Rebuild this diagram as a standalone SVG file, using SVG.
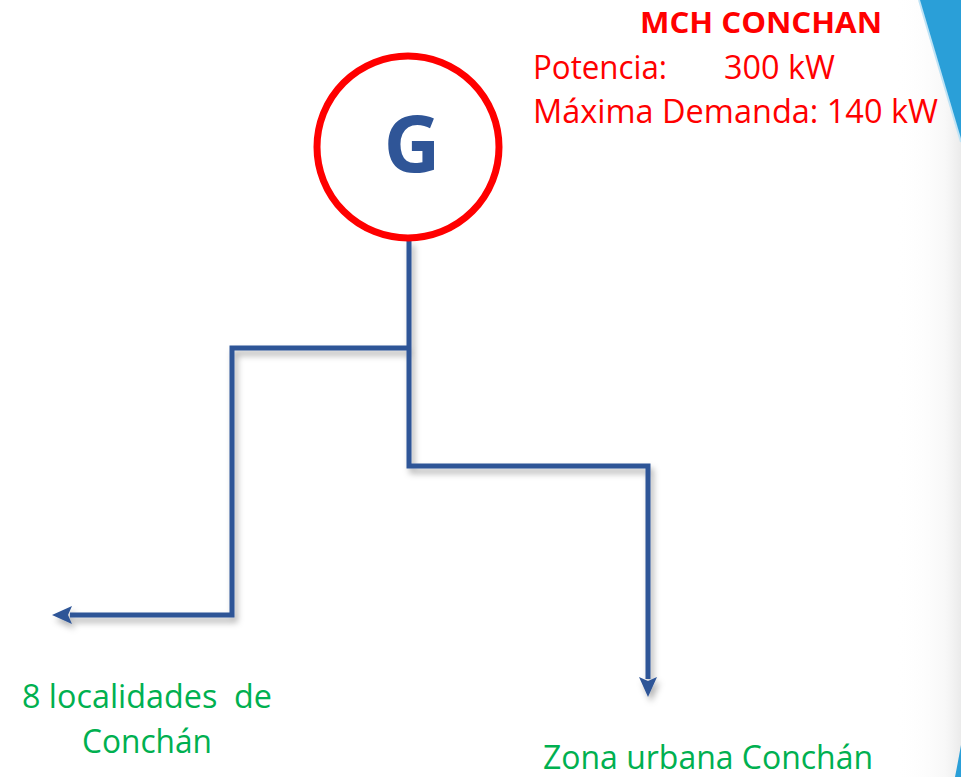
<svg xmlns="http://www.w3.org/2000/svg" width="961" height="777" viewBox="0 0 961 777">
<defs>
<style>
.red{font-family:"Open Sans","Liberation Sans",sans-serif;fill:#FF0000;font-size:32px}
.green{font-family:"Open Sans","Liberation Sans",sans-serif;fill:#00B050;font-size:32px}
.wire{fill:none;stroke:#2F5597;stroke-width:5;stroke-linejoin:miter}
</style>
<linearGradient id="shade" x1="0" y1="0" x2="1" y2="0">
<stop offset="0" stop-color="#ffffff" stop-opacity="0"/>
<stop offset="0.75" stop-color="#eeeeee" stop-opacity="0.4"/>
<stop offset="1" stop-color="#dddddd" stop-opacity="0.6"/>
</linearGradient>
<filter id="sh" x="-10%" y="-10%" width="130%" height="130%">
<feDropShadow dx="3" dy="5" stdDeviation="3" flood-color="#000" flood-opacity="0.3"/>
</filter>
<marker id="arr" viewBox="0 0 20 20" refX="2" refY="10" markerWidth="20" markerHeight="20" orient="auto" markerUnits="userSpaceOnUse">
<path d="M0,1 L20,10 L0,19 L4,10 Z" fill="#2F5597"/>
</marker>
</defs>
<rect width="961" height="777" fill="#ffffff"/>
<g id="decoration">
<rect x="895" y="0" width="66" height="777" fill="url(#shade)"/>
<path d="M919,0 Q938,65 961,142 V0 Z" fill="#2A9FD8"/>
<path d="M919,0 Q938,65 961,142" fill="none" stroke="#bfe3f5" stroke-width="2"/>
<path d="M961,745 Q958,762 955,777 H961 Z" fill="#2A9FD8"/>
</g>
<g id="connectors" filter="url(#sh)">
<path class="wire" d="M409,240 V466 H648 V679" marker-end="url(#arr)"/>
<path class="wire" d="M409,348 H232 V615 H70" marker-end="url(#arr)"/>
</g>
<g id="generator">
<circle cx="408" cy="147" r="91" fill="#ffffff" stroke="#FF0000" stroke-width="7"/>
<text x="412" y="172" text-anchor="middle" font-family="'Open Sans','Liberation Sans',sans-serif" font-weight="bold" font-size="78" fill="#2F5597">G</text>
</g>
<g id="info">
<text x="640" y="33" font-family="'Open Sans','Liberation Sans',sans-serif" font-weight="bold" font-size="29" fill="#FF0000" textLength="242" lengthAdjust="spacingAndGlyphs">MCH CONCHAN</text>
<text class="red" x="533" y="79" textLength="134" lengthAdjust="spacingAndGlyphs">Potencia:</text>
<text class="red" x="724" y="79" textLength="111" lengthAdjust="spacingAndGlyphs">300 kW</text>
<text class="red" x="533" y="123" textLength="405" lengthAdjust="spacingAndGlyphs">Máxima Demanda: 140 kW</text>
</g>
<g id="load-localidades">
<text class="green" x="22" y="708" textLength="250" lengthAdjust="spacingAndGlyphs" xml:space="preserve">8 localidades  de</text>
<text class="green" x="82" y="753" textLength="130" lengthAdjust="spacingAndGlyphs">Conchán</text>
</g>
<g id="load-urbana">
<text class="green" x="543" y="769" textLength="330" lengthAdjust="spacingAndGlyphs">Zona urbana Conchán</text>
</g>
</svg>
